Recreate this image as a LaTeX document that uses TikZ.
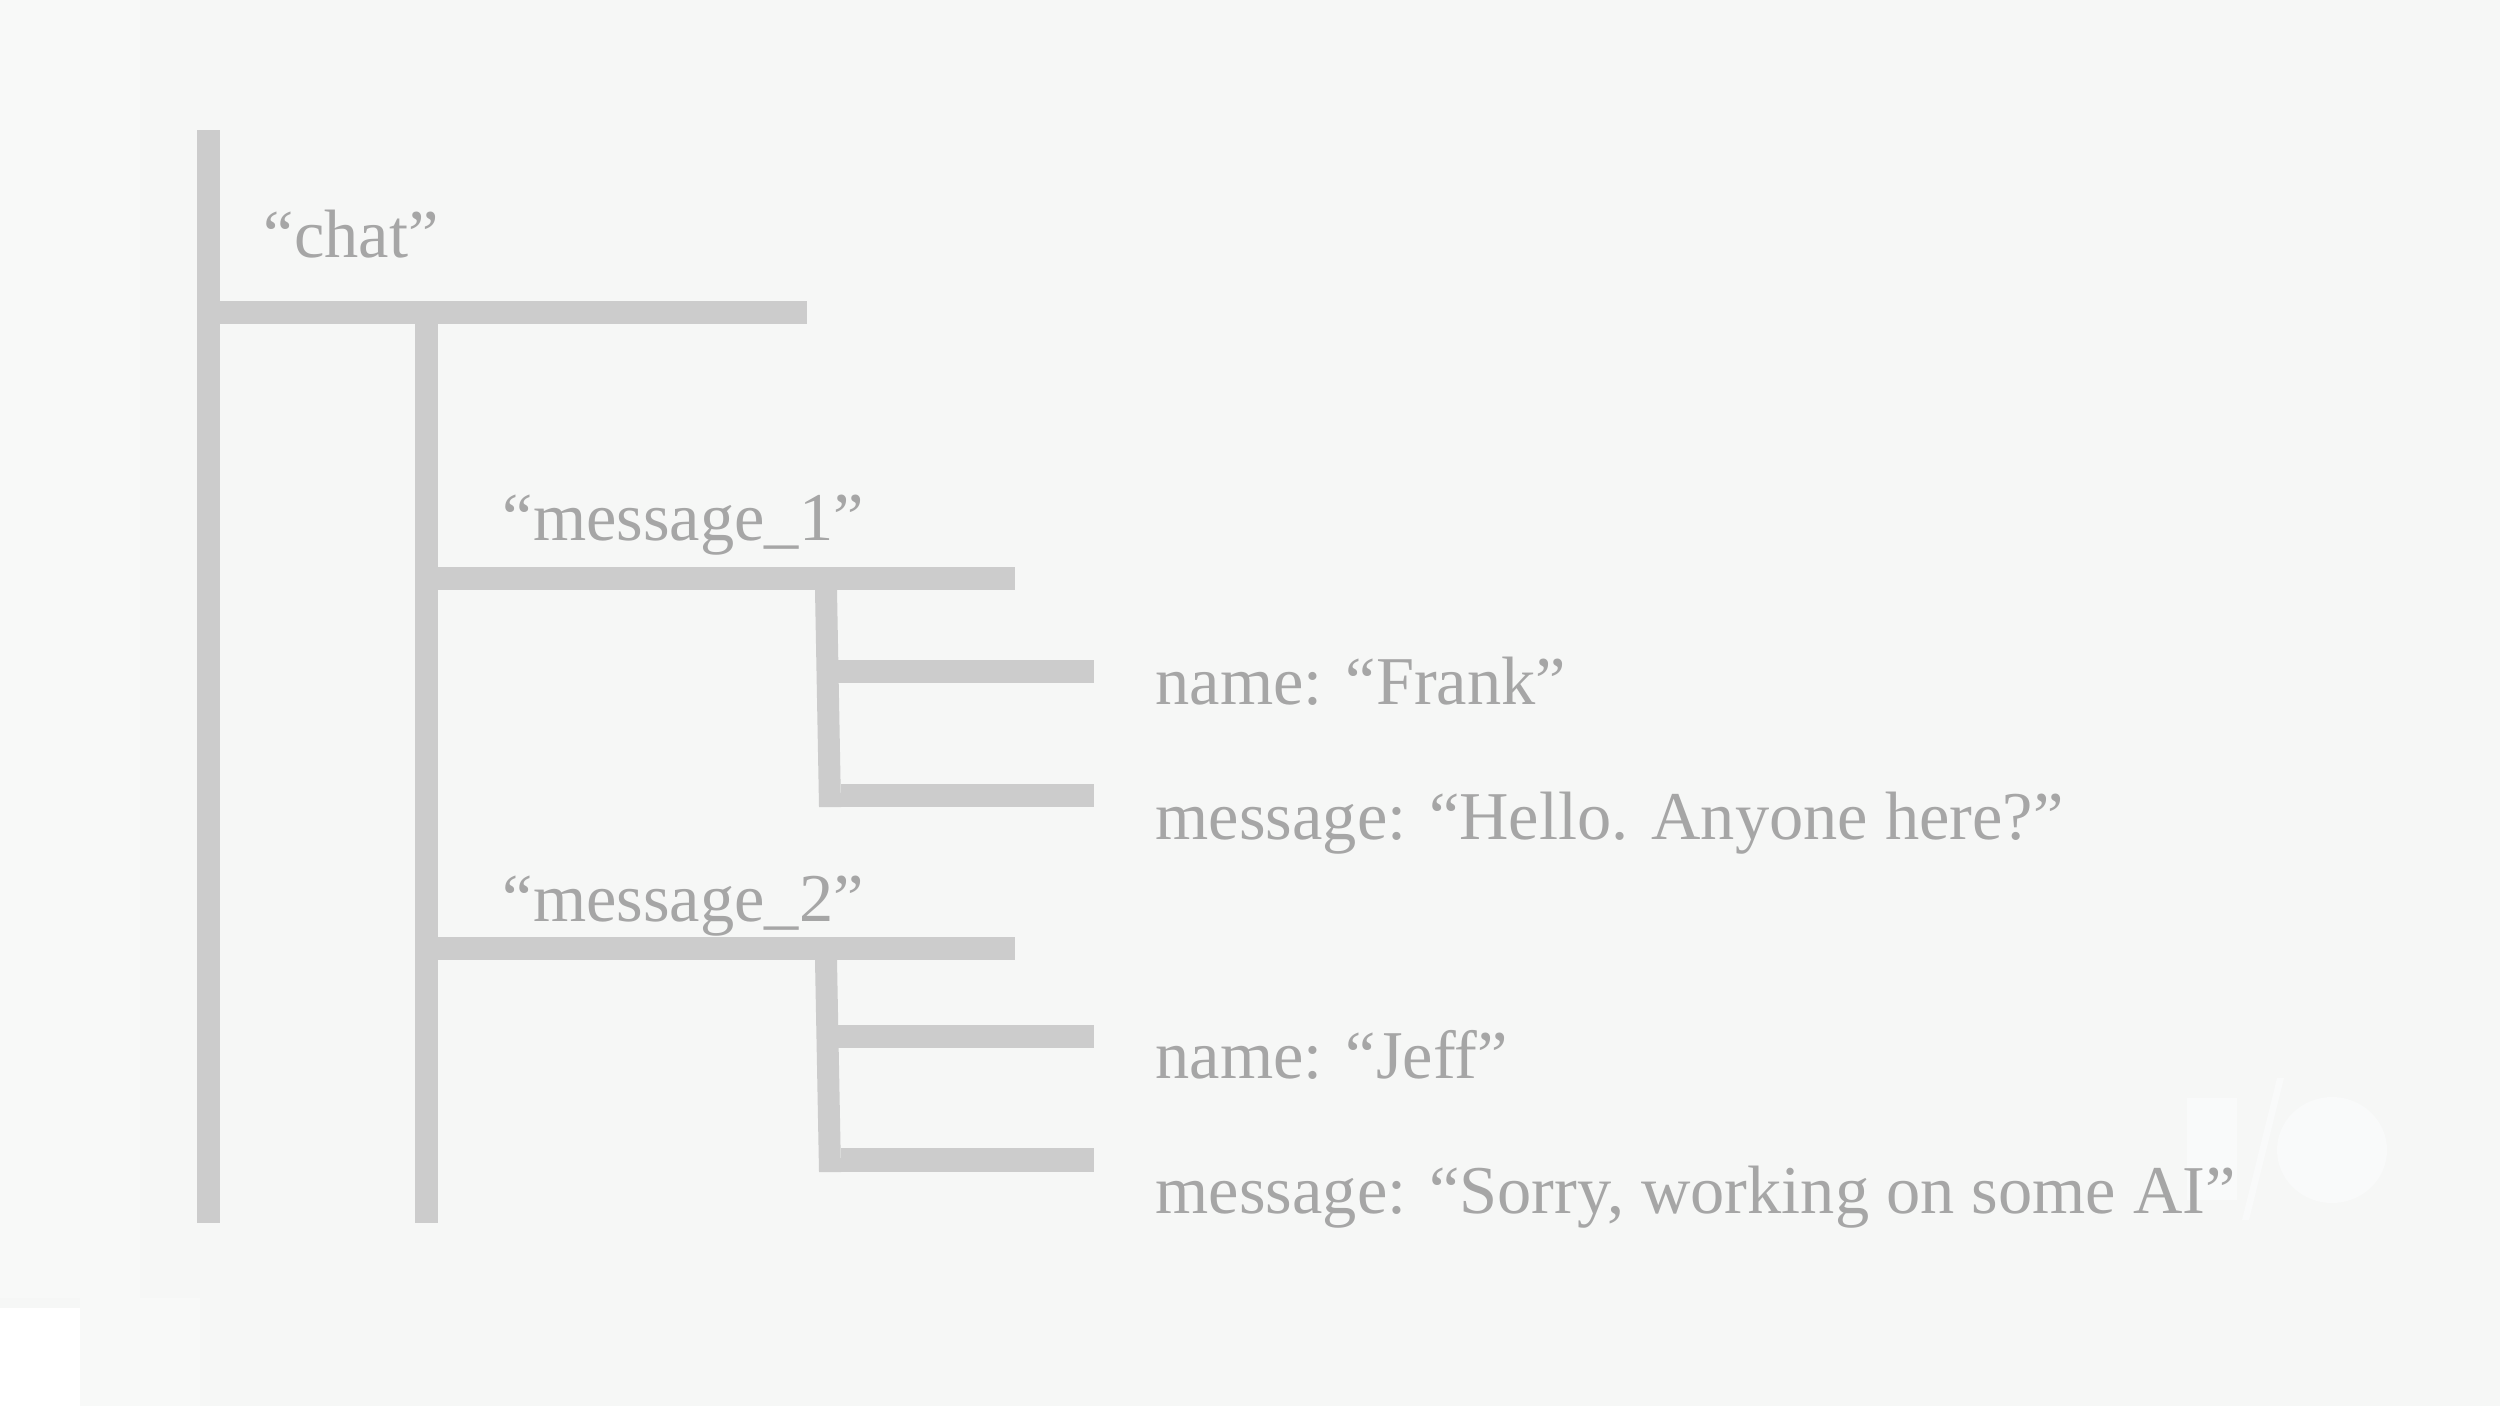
\documentclass[tikz,border=0pt]{standalone}
\usepackage{fontspec}
\setmainfont{Liberation Serif}
\definecolor{bgc}{HTML}{F6F7F6}
\definecolor{bgl}{HTML}{F8F9F8}
\definecolor{logoc}{HTML}{F9FAFA}
\definecolor{barc}{HTML}{CCCCCC}
\definecolor{txtc}{HTML}{A6A6A6}
\begin{document}
\begin{tikzpicture}[x=0.01cm,y=-0.01cm,
  lbl/.style={anchor=base west,inner sep=0pt,text=txtc,font=\fontsize{19.45pt}{23pt}\selectfont},
  bar/.style={fill=barc}]
\useasboundingbox (0,0) rectangle (2500,1406);
% background
\fill[bgc] (0,0) rectangle (2500,1406);
\fill[bgl] (0,0) rectangle (140,1298);
\fill[bgl] (80,1298) rectangle (200,1406);
\fill[white] (0,1308) rectangle (80,1406);
% faint logo
\fill[logoc] (2187,1098) rectangle (2237,1200);
\fill[logoc] (2277,1078) -- (2284,1078) -- (2249,1220) -- (2242,1220) -- cycle;
\fill[logoc] (2332,1150) ellipse [x radius=55, y radius=53];
% named anchor coordinates of the tree
\coordinate (root) at (197,130);
\coordinate (chatbar) at (220,301);
\coordinate (m1bar) at (438,567);
\coordinate (m2bar) at (438,937);
% bars
\fill[bar] (root) rectangle (220,1223);
\fill[bar] (chatbar) rectangle (807,324);
\fill[bar] (415,324) rectangle (438,1223);
\fill[bar] (m1bar) rectangle (1015,590);
\fill[bar] (815,590) -- (837,590) -- (841,807) -- (819,807) -- cycle;
\fill[bar] (837,660) rectangle (1094,683);
\fill[bar] (841,784) rectangle (1094,807);
\fill[bar] (m2bar) rectangle (1015,960);
\fill[bar] (815,960) -- (837,960) -- (841,1172) -- (819,1172) -- cycle;
\fill[bar] (837,1025) rectangle (1094,1048);
\fill[bar] (841,1148) rectangle (1094,1172);
% labels
\node[lbl] (chat) at (263,257) {“chat”};
\node[lbl] (msgA) at (502,540) {“message\_1”};
\node[lbl] (msgB) at (502,921) {“message\_2”};
\node[lbl] (nameA) at (1155,704) {name: “Frank”};
\node[lbl] (textA) at (1155,839) {message: “Hello. Anyone here?”};
\node[lbl] (nameB) at (1155,1078) {name: “Jeff”};
\node[lbl] (textB) at (1155,1213) {message: “Sorry, working on some AI”};
\end{tikzpicture}
\end{document}
